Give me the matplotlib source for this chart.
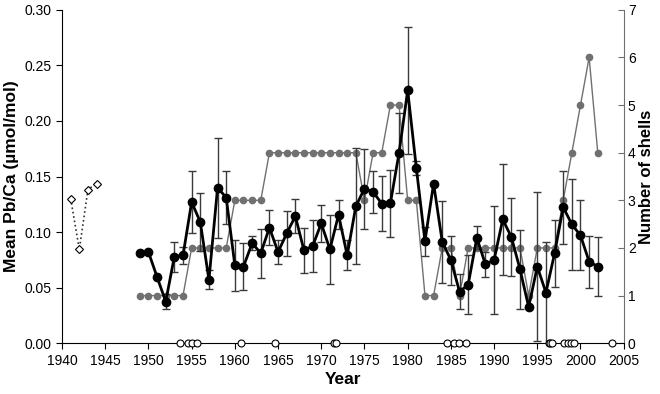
import matplotlib
matplotlib.use("Agg")
import matplotlib.pyplot as plt
import numpy as np

plt.rcParams['font.family'] = ['Liberation Sans', 'DejaVu Sans']

# mean Pb/Ca per year (black) with error bars
years = np.arange(1949, 2003)
mean_pbca = [0.0815, 0.082, 0.0595, 0.0374, 0.078, 0.079, 0.127, 0.109, 0.057, 0.140,
             0.131, 0.070, 0.069, 0.090, 0.081, 0.104, 0.082, 0.0988, 0.1143, 0.0835,
             0.0874, 0.1078, 0.0844, 0.1156, 0.079, 0.1233, 0.139, 0.136, 0.1257, 0.126,
             0.1712, 0.2275, 0.1578, 0.0919, 0.1437, 0.0913, 0.0748, 0.0464, 0.0527, 0.0949,
             0.0709, 0.0748, 0.1114, 0.0955, 0.0665, 0.0326, 0.0689, 0.0455, 0.0808, 0.1224,
             0.1069, 0.097, 0.0734, 0.0689]
err_pbca = [0, 0, 0, 0.007, 0.0135, 0.008, 0.028, 0.026, 0.0085, 0.045,
            0.024, 0.023, 0.021, 0.0065, 0.022, 0.016, 0.0105, 0.020, 0.0155, 0.020,
            0.0235, 0.017, 0.031, 0.013, 0.0135, 0.052, 0.036, 0.019, 0.025, 0.030,
            0.036, 0.057, 0.006, 0.013, 0, 0.037, 0.022, 0.016, 0.0265, 0.0105,
            0.011, 0.0485, 0.050, 0.035, 0.0356, 0, 0.067, 0.046, 0.030, 0.033,
            0.041, 0.0315, 0.0235, 0.0267]

# number of shells (grey, right axis)
n_shells = [1, 1, 1, 1, 1, 1, 2, 2, 2, 2, 2, 3, 3, 3, 3,
            4, 4, 4, 4, 4, 4, 4, 4, 4, 4, 4, 3, 4, 4, 5, 5, 3, 3, 1, 1,
            2, 2, 1, 2, 2, 2, 2, 2, 2, 2, 1, 2, 2, 2, 3, 4, 5, 6, 4]

# early values (open diamonds, dotted)
early_years = [1941, 1942, 1943, 1944]
early_pbca = [0.130, 0.0844, 0.1383, 0.1437]

# single-shell dates on the zero line (open circles)
zero_years = [1953.6, 1954.6, 1955.0, 1955.6, 1960.7, 1964.7, 1971.5, 1971.7,
              1984.6, 1985.4, 1985.9, 1986.7, 1996.3, 1996.5, 1996.7,
              1998.1, 1998.5, 1998.9, 1999.3, 2003.7]

fig = plt.figure(figsize=(6.6, 3.94), dpi=100)
ax = fig.add_axes([0.094, 0.129, 0.851, 0.846])
ax2 = ax.twinx()

gray = '#707070'
ax2.plot(years, n_shells, color=gray, lw=1.0, marker='o', ms=4.5, mec=gray, mfc=gray)
ax2.set_ylim(0, 7)
ax2.set_yticks(range(0, 8))
ax2.spines['right'].set_color(gray)
ax2.spines['top'].set_visible(False)
ax2.spines['left'].set_visible(False)
ax2.spines['bottom'].set_visible(False)
ax2.tick_params(axis='y', direction='in', length=4, color=gray, labelsize=10, pad=3)
ax2.set_ylabel('Number of shells', fontsize=12, fontweight='bold', labelpad=2)

ax.set_zorder(ax2.get_zorder() + 1)
ax.patch.set_visible(False)

err = np.array(err_pbca)
err[err == 0] = np.nan
ax.errorbar(years, mean_pbca, yerr=err, fmt='none', ecolor='#3a3a3a', elinewidth=1,
            capsize=3, capthick=1, zorder=2)
ax.plot(years, mean_pbca, color='black', lw=2, marker='o', ms=6, zorder=3)
ax.plot(early_years, early_pbca, color='#333333', ls=':', lw=1.2, marker='D', ms=4.5,
        mfc='white', mec='black', mew=0.8, zorder=3)
ax.plot(zero_years, np.zeros(len(zero_years)), ls='none', marker='o', ms=5,
        mfc='white', mec='black', mew=0.8, clip_on=False, zorder=4)

ax.set_xlim(1940, 2005)
ax.set_xticks(range(1940, 2006, 5))
ax.set_ylim(0, 0.30)
ax.set_yticks(np.arange(0, 0.301, 0.05))
ax.yaxis.set_major_formatter(matplotlib.ticker.FormatStrFormatter('%.2f'))
ax.spines['top'].set_visible(False)
ax.spines['right'].set_visible(False)
ax.tick_params(axis='both', direction='out', length=4, labelsize=10)
ax.set_xlabel('Year', fontsize=12.5, fontweight='bold', labelpad=3)
ax.set_ylabel('Mean Pb/Ca (\u00b5mol/mol)', fontsize=12.5, fontweight='bold', labelpad=4)

fig.savefig('out.png', dpi=100)
